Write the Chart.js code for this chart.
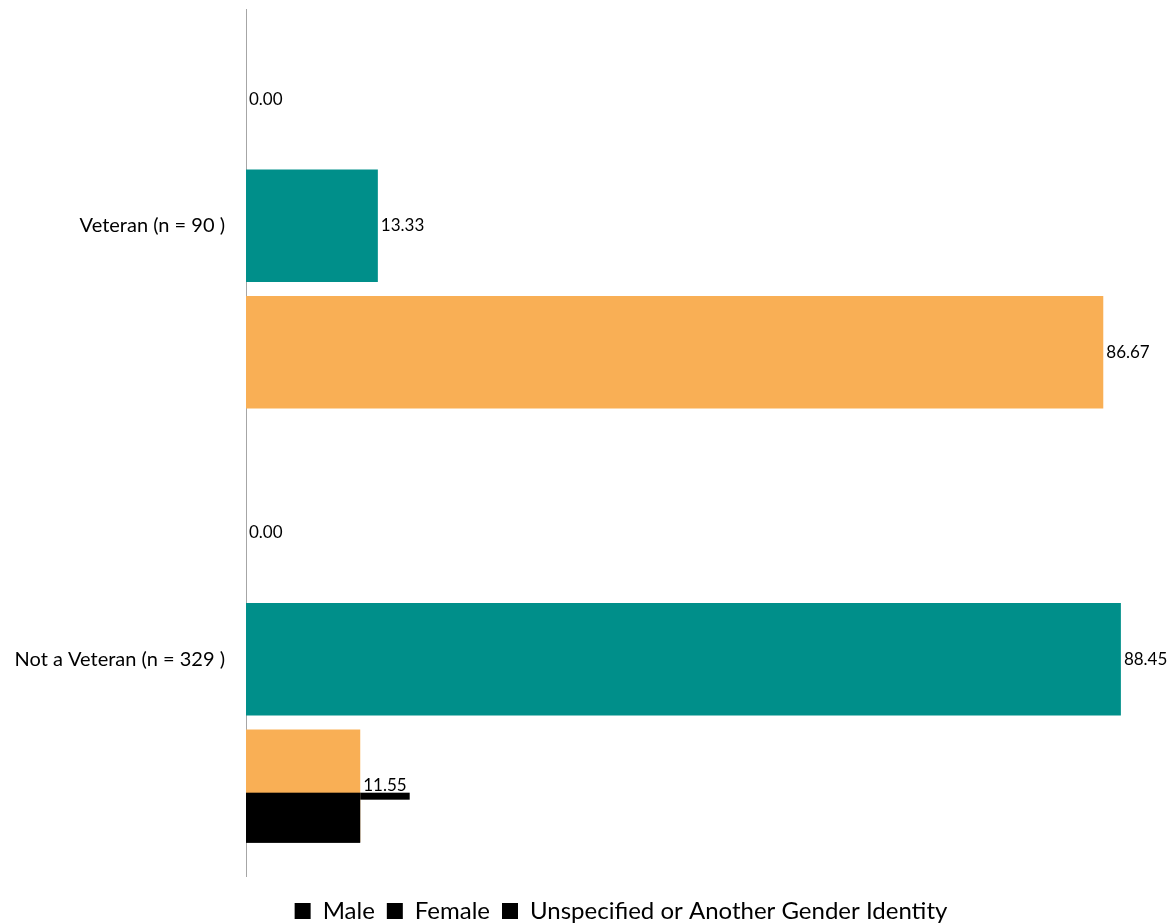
<!DOCTYPE html>
<html>
<head>
<meta charset="utf-8">
<script src="https://cdn.jsdelivr.net/npm/chart.js@4.4.0/dist/chart.umd.min.js"></script>
<style>
  html, body { margin: 0; padding: 0; background: #fff; }
  #wrap { width: 1168px; height: 923px; }
</style>
</head>
<body>
<div id="wrap"><canvas id="vetChart" width="1168" height="923"></canvas></div>
<script>
// categories and series (percent)
const categories = ["Veteran (n = 90 )", "Not a Veteran (n = 329 )"];
const seriesNames = ["Male", "Female", "Unspecified or Another Gender Identity"];
const maleValues = [0.00, 0.00];
const femaleValues = [13.33, 88.45];
const otherValues = [86.67, 11.55];
const seriesColors = ["#000000", "#008f8a", "#f9af55"];

const FONT = "Lato, 'Open Sans', sans-serif";

// value labels at the end of each bar
const valueLabels = {
  id: "valueLabels",
  afterDatasetsDraw(chart) {
    const c = chart.ctx;
    c.save();
    c.font = "17px " + FONT;
    c.fillStyle = "#000";
    c.textBaseline = "middle";
    c.textAlign = "left";
    chart.data.datasets.forEach((ds, i) => {
      chart.getDatasetMeta(i).data.forEach((bar, j) => {
        c.fillText(ds.data[j].toFixed(2), bar.x + 3, bar.y);
      });
    });
    c.restore();
  }
};

// odd black block over the lower part of the last bar (as in the source image)
const blackBlock = {
  id: "blackBlock",
  afterDraw(chart) {
    const last = chart.data.datasets.length - 1;
    const meta = chart.getDatasetMeta(last);
    const bar = meta.data[meta.data.length - 1];
    const c = chart.ctx;
    const top = bar.y + 7;
    const bottom = bar.y + bar.height / 2 + 1;
    c.save();
    c.fillStyle = "#000";
    c.fillRect(bar.base, top, bar.x - bar.base, bottom - top);
    c.font = "17px " + FONT;
    const w = c.measureText(chart.data.datasets[last].data[meta.data.length - 1].toFixed(2)).width;
    c.fillRect(bar.x, top, w + 6, 7);
    c.restore();
  }
};

// legend sits a bit right of the canvas centre in the source
const legendShift = {
  id: "legendShift",
  afterLayout(chart) {
    chart.legend.left += 43;
    chart.legend.right += 43;
  }
};

new Chart(document.getElementById("vetChart"), {
  type: "bar",
  data: {
    labels: categories,
    datasets: [
      { label: seriesNames[0], data: maleValues, backgroundColor: seriesColors[0] },
      { label: seriesNames[1], data: femaleValues, backgroundColor: seriesColors[1] },
      { label: seriesNames[2], data: otherValues, backgroundColor: seriesColors[2] }
    ]
  },
  options: {
    indexAxis: "y",
    responsive: false,
    animation: false,
    categoryPercentage: 0.875,
    barPercentage: 0.889,
    layout: { padding: { top: 9, right: 12, left: 0, bottom: -10 } },
    plugins: {
      tooltip: { enabled: false },
      legend: {
        position: "bottom",
        labels: {
          font: { family: FONT, size: 24, lineHeight: 1.0 },
          color: "#000",
          boxWidth: 16,
          boxHeight: 16,
          padding: 12,
          generateLabels(chart) {
            return chart.data.datasets.map((ds, i) => ({
              text: ds.label,
              fillStyle: "#000",
              strokeStyle: "#000",
              lineWidth: 0,
              datasetIndex: i
            }));
          }
        }
      }
    },
    scales: {
      x: {
        display: true,
        min: 0,
        max: 92,
        ticks: { display: false },
        grid: { display: false },
        border: { display: false },
        afterFit(scale) { scale.height = 11; }
      },
      y: {
        grid: { display: false },
        border: { display: true, color: "#a6a6a6", width: 1 },
        ticks: {
          color: "#000",
          font: { family: FONT, size: 20 },
          padding: 13
        },
        afterFit(scale) {
          scale.width = 246;
          scale.paddingTop = 0;
          scale.paddingBottom = 0;
        }
      }
    }
  },
  plugins: [valueLabels, blackBlock, legendShift]
});
</script>
</body>
</html>
